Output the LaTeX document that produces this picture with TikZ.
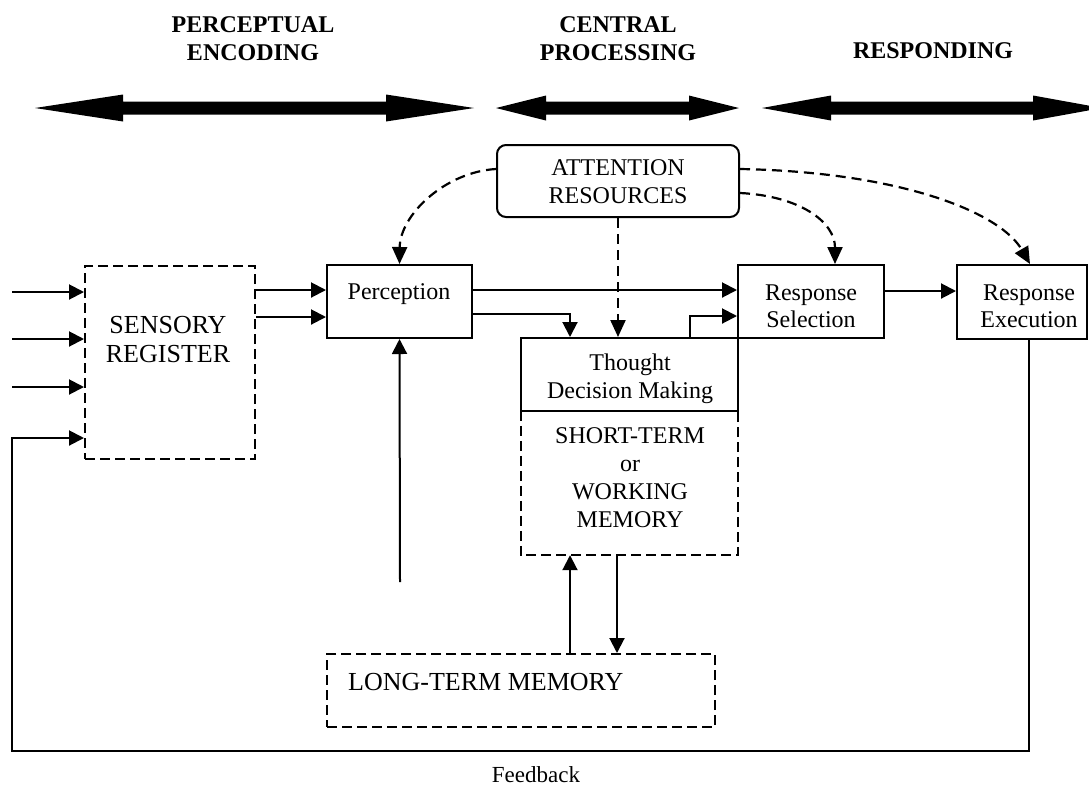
\documentclass[tikz,border=0pt]{standalone}
\usepackage{fontspec}
\setmainfont{Liberation Serif}
\usetikzlibrary{arrows.meta,calc}
\newcommand{\lines}[3]{{\fontsize{#1}{#2}\selectfont\setlength{\tabcolsep}{0pt}\begin{tabular}[t]{c}#3\end{tabular}}}
\begin{document}
\begin{tikzpicture}[x=1pt,y=-1pt,
  box/.style={draw,line width=2pt,rectangle,inner sep=0pt},
  nobox/.style={rectangle,inner sep=0pt},
  txt/.style={inner sep=0pt,anchor=base},
  arr/.style={line width=2pt,-{Triangle[length=15pt,width=15pt]}},
  darr/.style={line width=2.2pt,dash pattern=on 10pt off 6pt,-{Triangle[length=17pt,width=15pt]}},
  dline/.style={line width=2pt,dash pattern=on 10pt off 5pt},
  bigarrow/.style={fill=black}]
\useasboundingbox (0,0) rectangle (1089,785);

% headings
\node[txt] (h1) at (253,32) {\lines{24}{28}{\bfseries PERCEPTUAL\\\bfseries ENCODING}};
\node[txt] (h2) at (618,32) {\lines{24}{28}{\bfseries CENTRAL\\\bfseries PROCESSING}};
\node[txt] (h3) at (933,58) {\lines{24}{28}{\bfseries RESPONDING}};

% big double arrows
\fill[bigarrow] (35,108) -- (123,94.5) -- (123,101.5) -- (386,101.5) -- (386,94.5) -- (474,108) -- (386,121.5) -- (386,114.5) -- (123,114.5) -- (123,121.5) -- cycle;
\fill[bigarrow] (496,108) -- (546,95.5) -- (546,101.5) -- (689,101.5) -- (689,95.5) -- (739,108) -- (689,120.5) -- (689,114.5) -- (546,114.5) -- (546,120.5) -- cycle;
\fill[bigarrow] (762,108) -- (831,95.5) -- (831,101.5) -- (1033,101.5) -- (1033,95.5) -- (1102,108) -- (1033,120.5) -- (1033,114.5) -- (831,114.5) -- (831,120.5) -- cycle;

% boxes
\node[box,rounded corners=9pt,minimum width=242pt,minimum height=72pt] (attn) at (618,181) {};
\node[box,dash pattern=on 10pt off 5pt,minimum width=170pt,minimum height=193pt] (sens) at (170,362.5) {};
\node[box,minimum width=145pt,minimum height=73pt] (perc) at (399.5,301.5) {};
\node[box,minimum width=146pt,minimum height=73pt] (sel) at (811,301.5) {};
\node[box,minimum width=130pt,minimum height=74pt] (exec) at (1022,302) {};
\node[box,minimum width=217pt,minimum height=73pt] (thought) at (629.5,374.5) {};
\node[nobox,minimum width=217pt,minimum height=144pt] (stm) at (629.5,483) {};
\draw[dline] (stm.north west) -- (stm.south west) -- (stm.south east) -- (stm.north east);
\node[box,dash pattern=on 10pt off 5pt,minimum width=388pt,minimum height=73pt] (ltm) at (521,690.5) {};

% texts
\node[txt] (tattn) at (618,175) {\lines{24}{28}{ATTENTION\\RESOURCES}};
\node[txt] (tsens) at (168,333) {\lines{26}{29}{SENSORY\\REGISTER}};
\node[txt] (tperc) at (399,299) {\lines{24}{27}{Perception}};
\node[txt] (tsel) at (811,300) {\lines{24}{27}{Response\\Selection}};
\node[txt] (texec) at (1029,300) {\lines{24}{27}{Response\\Execution}};
\node[txt] (tthought) at (630,370) {\lines{24}{28}{Thought\\Decision Making}};
\node[txt] (tstm) at (630,443) {\lines{24}{28.3}{SHORT-TERM\\or\\WORKING\\MEMORY}};
\node[inner sep=0pt,anchor=base west] (tltm) at (348,690) {\fontsize{26}{29}\selectfont LONG-TERM MEMORY};
\node[txt] (tfb) at (536,782) {\fontsize{23}{26}\selectfont Feedback};

% free ends
\coordinate (in1) at (12,292);
\coordinate (in2) at (12,339);
\coordinate (in3) at (12,387);
\coordinate (stub) at (400,582);

% inputs
\draw[arr] (in1) -- (sens.west |- in1);
\draw[arr] (in2) -- (sens.west |- in2);
\draw[arr] (in3) -- (sens.west |- in3);

% sensory to perception
\draw[arr] (sens.east |- 0,290) -- (perc.west |- 0,290);
\draw[arr] (sens.east |- 0,317) -- (perc.west |- 0,317);

% perception outputs
\draw[arr] (perc.east |- 0,290) -- (sel.west |- 0,290);
\draw[arr] (perc.east |- 0,314) -| (thought.north -| 570,0);
\draw[arr] (thought.north -| 690,0) |- (sel.west |- 0,316);
\draw[arr] (sel.east |- 0,291) -- (exec.west |- 0,291);
\draw[arr] (stub) -- (perc.south);

% memory
\draw[arr] (ltm.north -| 570,0) -- (stm.south -| 570,0);
\draw[arr] (stm.south -| 617,0) -- (ltm.north -| 617,0);

% attention
\draw[darr] (attn.west |- 0,169) .. controls (445,172) and (400,215) .. (perc.north);
\draw[darr] (attn.south) -- (attn.south |- thought.north);
\draw[darr] (attn.east |- 0,193) .. controls (800,196) and (835,222) .. (sel.north -| 835,0);
\draw[darr] (attn.east |- 0,169) .. controls (900,172) and (1000,212) .. (exec.north -| 1030,0);

% feedback
\draw[arr] (exec.south -| 1029,0) |- (12,751) |- (sens.west |- 0,438);
\end{tikzpicture}
\end{document}
